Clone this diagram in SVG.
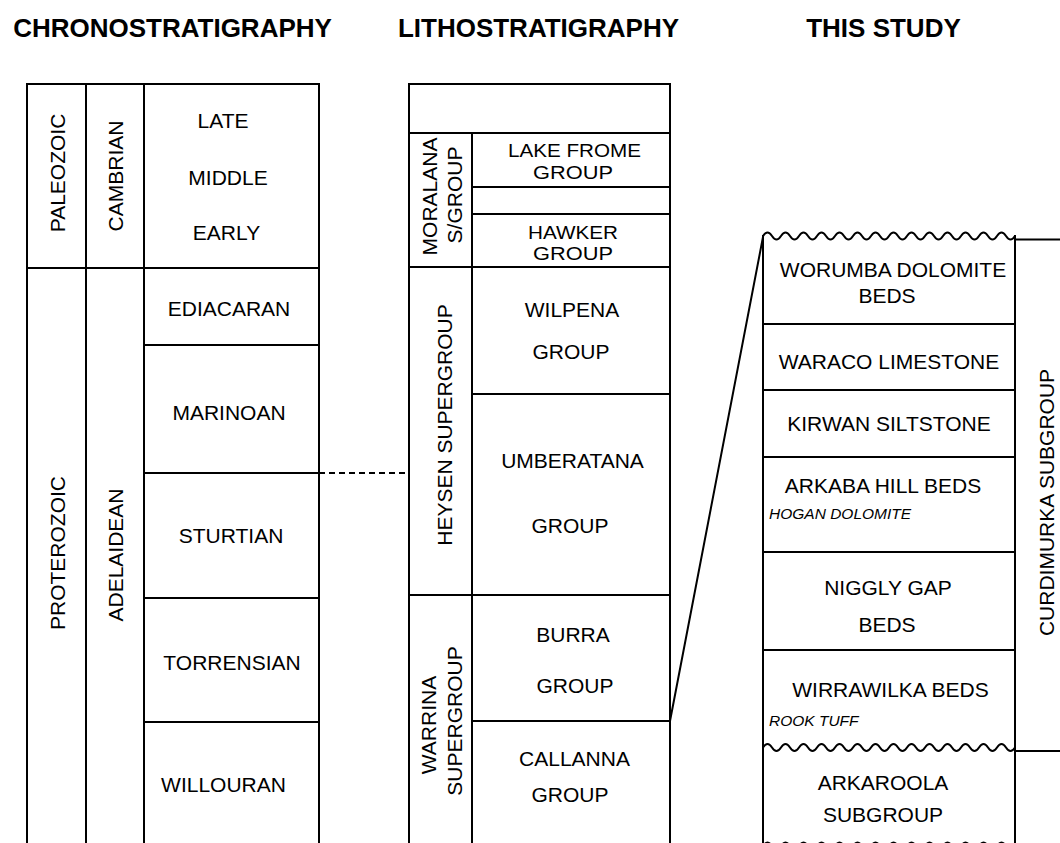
<svg xmlns="http://www.w3.org/2000/svg" width="1060" height="843" viewBox="0 0 1060 843">
<style>
.ln{stroke:#000;stroke-width:2;fill:none;stroke-linecap:square}
.wv{stroke:#000;stroke-width:2;fill:none}
.h{font-family:"Liberation Sans",Arial,sans-serif;font-weight:bold;font-size:26px;fill:#000;text-anchor:middle}
.t{font-family:"Liberation Sans",Arial,sans-serif;font-size:21px;fill:#000;text-anchor:middle}
.s{font-family:"Liberation Sans",Arial,sans-serif;font-size:18.4px;fill:#000;text-anchor:middle}
.i{font-family:"Liberation Sans",Arial,sans-serif;font-size:15.5px;font-style:italic;fill:#000}
</style>
<rect width="1060" height="843" fill="#fff"/>
<g id="headers">
<text class="h" x="172.5" y="36.5">CHRONOSTRATIGRAPHY</text>
<text class="h" x="538.5" y="36.5">LITHOSTRATIGRAPHY</text>
<text class="h" x="883.5" y="36.5">THIS STUDY</text>
</g>
<g id="grid">
<path class="ln" d="M27,843V84H319V843M86,84V843M144,84V843M27,268H319M144,345H319M144,473H319M144,598H319M144,722H319"/>
<path class="ln" d="M409,843V84H670V843M409,133H670M472,133V843M472,187H670M472,214H670M409,267H670M472,394H670M409,595H670M472,721H670"/>
<path class="ln" d="M763,236V843M1015,236V843M1015,239.5H1060M1015,751H1060M763,324H1015M763,390H1015M763,457H1015M763,552H1015M763,650H1015"/>
<path class="wv" d="M763,236q4.5,-7 9,0t9,0t9,0t9,0t9,0t9,0t9,0t9,0t9,0t9,0t9,0t9,0t9,0t9,0t9,0t9,0t9,0t9,0t9,0t9,0t9,0t9,0t9,0t9,0t9,0t9,0t9,0t9,0"/>
<path class="wv" d="M763,747.5q4.5,-7 9,0t9,0t9,0t9,0t9,0t9,0t9,0t9,0t9,0t9,0t9,0t9,0t9,0t9,0t9,0t9,0t9,0t9,0t9,0t9,0t9,0t9,0t9,0t9,0t9,0t9,0t9,0t9,0"/>
<path class="wv" d="M763,846q4.5,-7 9,0t9,0t9,0t9,0t9,0t9,0t9,0t9,0t9,0t9,0t9,0t9,0t9,0t9,0t9,0t9,0t9,0t9,0t9,0t9,0t9,0t9,0t9,0t9,0t9,0t9,0t9,0t9,0"/>
</g>
<g id="connectors">
<path class="ln" d="M319,473H409" stroke-dasharray="6 4" style="stroke-linecap:butt"/>
<path class="ln" d="M670,721L763,237"/>
</g>
<g id="paleozoic"><text class="t" transform="translate(65,173) rotate(-90)">PALEOZOIC</text></g>
<g id="cambrian"><text class="t" transform="translate(123,176) rotate(-90)">CAMBRIAN</text></g>
<g id="late"><text class="t" x="223" y="128">LATE</text></g>
<g id="middle"><text class="t" x="228" y="185">MIDDLE</text></g>
<g id="early"><text class="t" x="226.5" y="240">EARLY</text></g>
<g id="proterozoic"><text class="t" transform="translate(65,553) rotate(-90)">PROTEROZOIC</text></g>
<g id="adelaidean"><text class="t" transform="translate(123,555) rotate(-90)">ADELAIDEAN</text></g>
<g id="ediacaran"><text class="t" x="229" y="316">EDIACARAN</text></g>
<g id="marinoan"><text class="t" x="229" y="420">MARINOAN</text></g>
<g id="sturtian"><text class="t" x="231" y="543">STURTIAN</text></g>
<g id="torrensian"><text class="t" x="232" y="670">TORRENSIAN</text></g>
<g id="willouran"><text class="t" x="223.5" y="792">WILLOURAN</text></g>
<g id="moralana"><text class="t" transform="translate(437,196.5) rotate(-90)">MORALANA</text><text class="t" transform="translate(462,195) rotate(-90)">S/GROUP</text></g>
<g id="lake-frome"><text class="s" x="574.5" y="157.3" textLength="133" lengthAdjust="spacingAndGlyphs">LAKE FROME</text><text class="s" x="573" y="179.3" textLength="80" lengthAdjust="spacingAndGlyphs">GROUP</text></g>
<g id="hawker"><text class="s" x="573" y="238.8" textLength="90" lengthAdjust="spacingAndGlyphs">HAWKER</text><text class="s" x="573" y="259.5" textLength="80" lengthAdjust="spacingAndGlyphs">GROUP</text></g>
<g id="heysen"><text class="t" transform="translate(452,425) rotate(-90)">HEYSEN SUPERGROUP</text></g>
<g id="wilpena"><text class="t" x="572" y="316.7">WILPENA</text><text class="t" x="571" y="359.3">GROUP</text></g>
<g id="umberatana"><text class="t" x="572.5" y="468.3">UMBERATANA</text><text class="t" x="570" y="533.3">GROUP</text></g>
<g id="warrina"><text class="t" transform="translate(436,725) rotate(-90)">WARRINA</text><text class="t" transform="translate(462,721) rotate(-90)">SUPERGROUP</text></g>
<g id="burra"><text class="t" x="573" y="641.7">BURRA</text><text class="t" x="575" y="692.7">GROUP</text></g>
<g id="callanna"><text class="t" x="574.5" y="765.7">CALLANNA</text><text class="t" x="570" y="801.7">GROUP</text></g>
<g id="worumba"><text class="t" x="893" y="276.7">WORUMBA DOLOMITE</text><text class="t" x="887" y="303.3">BEDS</text></g>
<g id="waraco"><text class="t" x="889" y="369.3">WARACO LIMESTONE</text></g>
<g id="kirwan"><text class="t" x="889" y="431">KIRWAN SILTSTONE</text></g>
<g id="arkaba"><text class="t" x="883" y="493.3">ARKABA HILL BEDS</text><text class="i" x="769" y="519.3">HOGAN DOLOMITE</text></g>
<g id="niggly"><text class="t" x="888" y="595">NIGGLY GAP</text><text class="t" x="887" y="631.7">BEDS</text></g>
<g id="wirrawilka"><text class="t" x="890.5" y="696.7">WIRRAWILKA BEDS</text><text class="i" x="769" y="726">ROOK TUFF</text></g>
<g id="arkaroola"><text class="t" x="883" y="790">ARKAROOLA</text><text class="t" x="883" y="821.7">SUBGROUP</text></g>
<g id="curdimurka"><text class="t" transform="translate(1054,502.5) rotate(-90)">CURDIMURKA SUBGROUP</text></g>
</svg>
